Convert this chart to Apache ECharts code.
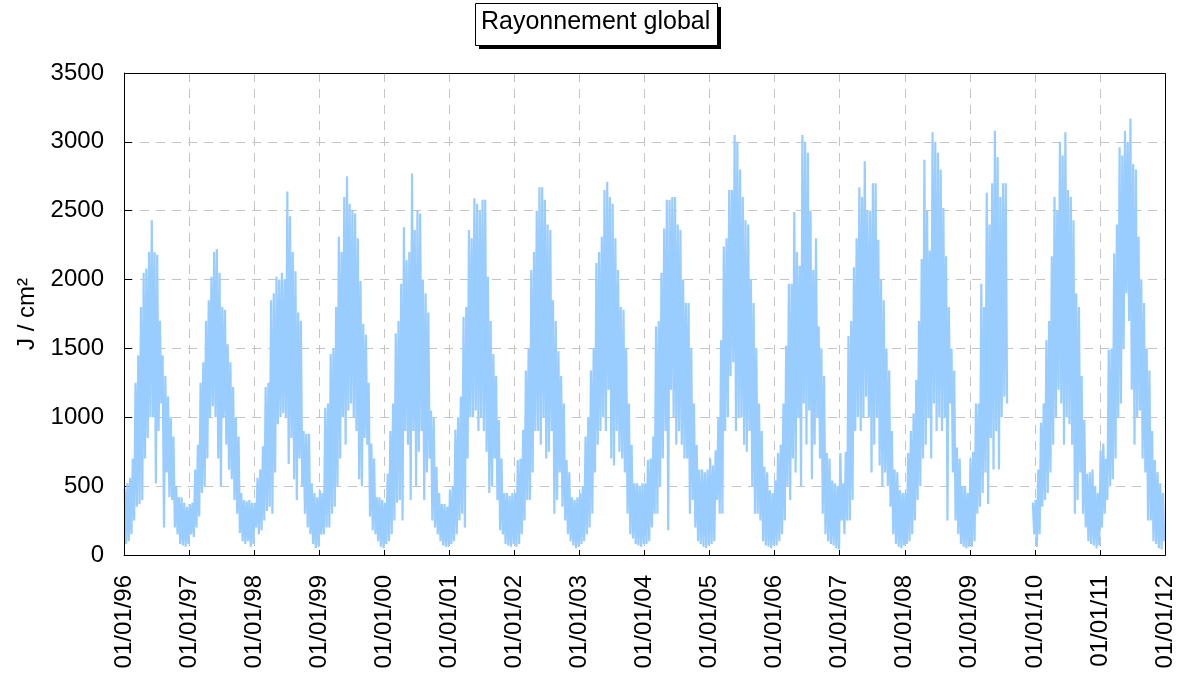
<!DOCTYPE html>
<html>
<head>
<meta charset="utf-8">
<script src="https://cdn.jsdelivr.net/npm/echarts@6/dist/echarts.min.js"></script>
<style>
html,body{margin:0;padding:0;background:#fff;}
#chart{width:1181px;height:679px;}
</style>
</head>
<body>
<div id="chart"></div>
<script>
// Half-month envelope readings (upper / lower values in J/cm²), 24 per year
const years = [1996,1997,1998,1999,2000,2001,2002,2003,2004,2005,2006,2007,2008,2009,2010,2011];
const tickYears = [1996,1997,1998,1999,2000,2001,2002,2003,2004,2005,2006,2007,2008,2009,2010,2011,2012];
const titleText = 'Rayonnement global';
const yAxisName = 'J / cm²';

const hi1996 = [480,520,560,700,1250,1450,1800,2050,2080,2200,2430,2200,2180,1700,1450,1300,1150,1000,860,500,420,420,380,350];
const lo1996 = [80,100,150,250,350,370,400,700,850,1000,1000,520,900,1100,200,600,420,400,200,150,80,70,60,80];
const hi1997 = [370,380,620,800,1250,1400,1700,1850,2020,2200,2220,2050,1800,1780,1530,1400,1220,1000,860,450,400,390,400,380];
const lo1997 = [150,130,200,280,450,500,700,1000,1080,1000,700,500,1000,800,620,550,400,300,160,100,80,100,60,80];
const hi1998 = [380,560,620,790,1220,1250,1850,1900,2020,2000,2050,2000,2640,2460,2200,2060,1760,1700,900,880,880,520,450,420];
const lo1998 = [200,150,180,250,320,350,300,600,950,1000,1030,1000,660,850,550,400,700,500,300,200,150,80,50,60];
const hi1999 = [470,450,1070,1100,1460,1500,1800,2310,2200,2600,2750,2550,2500,2480,2300,1990,1680,1600,1250,810,700,420,420,400];
const lo1999 = [150,150,200,200,300,350,500,700,1000,800,1050,1100,1000,900,550,500,850,800,280,180,150,100,60,50];
const hi2000 = [380,590,900,1100,1610,1700,1970,2380,2140,2200,2770,2360,2500,2480,2000,1900,1760,1050,1000,640,450,370,370,350];
const lo2000 = [80,100,150,250,380,400,250,900,800,400,900,500,750,900,400,600,700,250,200,150,100,70,60,60];
const hi2001 = [470,500,910,1000,1150,1730,1800,2360,2300,2590,2550,2500,2580,2580,2020,1700,1460,1300,980,700,450,450,430,450];
const lo2001 = [80,100,150,250,300,200,700,1000,1000,1050,900,1000,900,750,450,500,700,400,180,150,80,70,60,80];
const hi2002 = [450,690,700,910,1340,1500,2070,2200,2500,2670,2670,2580,2400,2360,1850,1700,1480,1300,1100,690,600,420,400,420];
const lo2002 = [60,80,150,250,400,400,600,900,900,800,1000,700,750,900,300,400,600,350,250,150,100,70,50,60];
const hi2003 = [450,500,860,1000,1340,1500,2120,2200,2310,2650,2710,2600,2550,2300,2070,1800,1780,1500,1100,800,520,520,500,520];
const lo2003 = [80,100,150,200,300,600,800,900,1000,900,1200,700,650,900,750,700,600,300,150,120,80,70,60,80];
const hi2004 = [520,690,700,860,1660,1700,2050,2370,2580,2580,2600,2600,2400,2360,2000,1830,1830,1500,1100,800,620,620,600,620];
const lo2004 = [80,100,200,300,300,500,700,900,180,1200,1000,800,900,800,700,700,300,400,200,100,80,60,50,70];
const hi2005 = [700,650,760,1000,1560,2240,2300,2650,2650,3050,3000,2800,2600,2430,2400,2000,1830,1500,1100,900,640,600,470,450];
const lo2005 = [80,100,400,300,300,900,1000,1300,1400,900,1000,1000,800,750,900,500,300,300,250,100,70,60,50,70];
const hi2006 = [540,740,800,1100,1520,1970,1970,2490,2200,2100,3050,3000,2920,2500,2070,2300,1660,1500,1300,740,700,540,520,500];
const lo2006 = [70,100,150,250,500,400,700,600,1000,500,1100,800,1050,550,800,1000,700,300,150,100,80,70,50,40];
const hi2007 = [740,520,750,1590,1700,2090,2300,2670,2600,2860,2500,2500,2700,2700,2290,2000,1850,1500,1340,900,620,600,470,450];
const lo2007 = [250,150,250,250,400,900,1000,900,1000,1150,1000,600,800,1000,650,500,600,500,350,150,80,60,50,70];
const hi2008 = [450,740,900,1030,1270,1700,2150,2870,2500,2210,3070,3000,2920,2800,2520,2170,1800,1500,1340,780,700,500,500,450];
const lo2008 = [80,100,150,250,400,500,700,800,1000,700,1100,900,1000,900,1000,250,1100,600,250,150,80,60,50,60];
const hi2009 = [700,750,1100,1100,1970,1800,2630,2400,2700,3080,2890,2600,2700,2700,null,null,null,null,null,null,null,null,null,380];
const lo2009 = [60,100,300,350,450,600,370,850,620,900,620,1000,1150,1100,null,null,null,null,null,null,null,null,null,150];
const hi2010 = [400,620,960,1100,1560,1700,2170,2600,2500,3000,2900,3070,2650,2600,2430,1900,1800,1300,980,590,600,620,500,450];
const lo2010 = [60,150,350,400,450,600,800,1000,1200,1100,800,1000,950,800,300,400,600,300,200,100,80,70,50,70];
const hi2011 = [760,810,700,1490,1500,2190,2400,2960,2900,3080,3000,3170,2840,2800,2310,2000,1830,1500,1340,900,690,600,520,450];
const lo2011 = [200,300,400,500,550,700,1000,1100,1500,1900,1700,1200,800,1000,1050,700,600,250,250,100,80,50,40,100];

const hiByYear = [hi1996,hi1997,hi1998,hi1999,hi2000,hi2001,hi2002,hi2003,hi2004,hi2005,hi2006,hi2007,hi2008,hi2009,hi2010,hi2011];
const loByYear = [lo1996,lo1997,lo1998,lo1999,lo2000,lo2001,lo2002,lo2003,lo2004,lo2005,lo2006,lo2007,lo2008,lo2009,lo2010,lo2011];

const seriesData = [];
years.forEach((yr, i) => {
  const hi = hiByYear[i], lo = loByYear[i];
  for (let k = 0; k < hi.length; k++) {
    const x0 = yr + k / 24;
    seriesData.push([x0 + 1 / 96, hi[k] == null ? '-' : hi[k]]);
    seriesData.push([x0 + 3 / 96, lo[k] == null ? '-' : lo[k]]);
  }
});

const FONT = "'Liberation Sans', Arial, sans-serif";
const chart = echarts.init(document.getElementById('chart'), null, {renderer: 'canvas'});
chart.setOption({
  animation: false,
  backgroundColor: '#fff',
  graphic: [
    {type: 'rect', shape: {x: 479, y: 7, width: 242, height: 42}, style: {fill: '#000'}, z: 10},
    {type: 'rect', shape: {x: 475.5, y: 3.5, width: 242, height: 42}, style: {fill: '#fff', stroke: '#000', lineWidth: 1}, z: 11},
    {type: 'text', left: 481, top: 10, style: {text: titleText, fontSize: 25, fontFamily: FONT, fill: '#000'}, z: 12},
    {type: 'rect', shape: {x: 124.5, y: 73.5, width: 1041, height: 482}, style: {fill: 'none', stroke: '#000', lineWidth: 1}, z: 100, silent: true}
  ],
  grid: {left: 124, right: 16, top: 73, bottom: 124, show: false},
  xAxis: {
    type: 'value', min: 1996, max: 2012, interval: 1,
    axisLine: {show: true, lineStyle: {color: '#000', width: 1}},
    axisTick: {show: true, inside: true, length: 5, lineStyle: {color: '#000'}},
    splitLine: {show: true, lineStyle: {color: '#c4c4c4', type: [9, 7], width: 1}},
    axisLabel: {
      rotate: 90, margin: 20, fontSize: 24, color: '#000', fontFamily: FONT,
      formatter: v => { const y = Math.round(v); return tickYears.includes(y) ? '01/01/' + String(y).slice(2) : ''; }
    }
  },
  yAxis: {
    type: 'value', min: 0, max: 3500, interval: 500,
    name: yAxisName, nameLocation: 'middle', nameGap: 80,
    nameTextStyle: {fontSize: 24, color: '#000', fontFamily: FONT},
    axisLine: {show: true, lineStyle: {color: '#000', width: 1}},
    axisTick: {show: true, inside: true, length: 8, lineStyle: {color: '#000'}},
    splitLine: {show: true, lineStyle: {color: '#c4c4c4', type: [9, 7], width: 1}},
    axisLabel: {margin: 20, fontSize: 24, color: '#000', fontFamily: FONT, formatter: v => String(v)}
  },
  series: [{
    type: 'line',
    data: seriesData,
    showSymbol: false, symbol: 'none',
    connectNulls: false,
    sampling: null,
    lineStyle: {color: '#99CCFF', width: 2.2},
    z: 3
  }]
});
</script>
</body>
</html>
